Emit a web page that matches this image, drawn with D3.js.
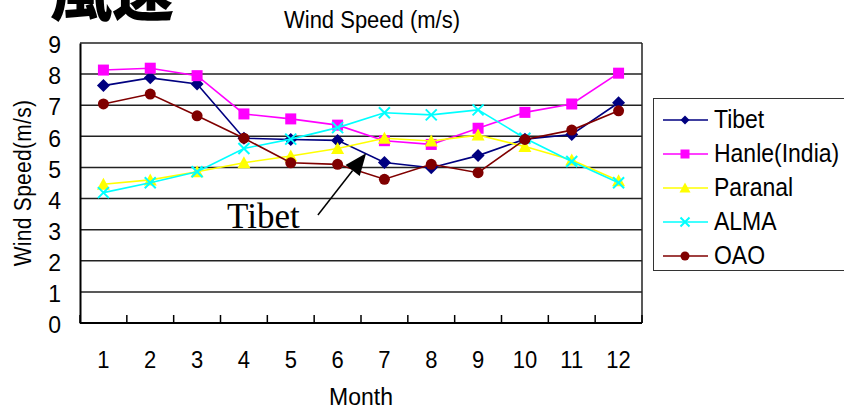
<!DOCTYPE html>
<html>
<head>
<meta charset="utf-8">
<script src="https://cdn.jsdelivr.net/npm/d3@7"></script>
<style>
  body { margin: 0; background: #fff; }
  svg { font-family: "Liberation Sans", Arial, sans-serif; }
</style>
</head>
<body>
<div id="chart"></div>
<script>
// chart data
var months = [1, 2, 3, 4, 5, 6, 7, 8, 9, 10, 11, 12];
var tibet = [7.63, 7.88, 7.68, 5.94, 5.90, 5.87, 5.16, 4.99, 5.38, 5.91, 6.06, 7.08];
var hanle = [8.13, 8.19, 7.95, 6.72, 6.56, 6.36, 5.86, 5.74, 6.26, 6.77, 7.04, 8.03];
var paranal = [4.46, 4.60, 4.86, 5.15, 5.37, 5.61, 5.94, 5.85, 6.04, 5.67, 5.24, 4.57];
var alma = [4.19, 4.51, 4.86, 5.61, 5.91, 6.28, 6.76, 6.69, 6.85, 5.94, 5.19, 4.51];
var oao = [7.04, 7.36, 6.66, 5.94, 5.15, 5.10, 4.62, 5.10, 4.83, 5.90, 6.20, 6.82];
var yTicks = [0, 1, 2, 3, 4, 5, 6, 7, 8, 9];

var series = [
  { name: "Tibet", values: tibet, color: "#000080", symbol: "diamond" },
  { name: "Hanle(India)", values: hanle, color: "#ff00ff", symbol: "square" },
  { name: "Paranal", values: paranal, color: "#ffff00", symbol: "triangle" },
  { name: "ALMA", values: alma, color: "#00ffff", symbol: "cross" },
  { name: "OAO", values: oao, color: "#800000", symbol: "circle" }
];

var svgWidth = 844, svgHeight = 409;
var plot = { left: 80, right: 642, top: 43, bottom: 323 };

var svg = d3.select("#chart").append("svg")
  .attr("width", svgWidth)
  .attr("height", svgHeight);

var x = d3.scaleBand().domain(months).range([plot.left, plot.right]);
var xc = function(m) { return x(m) + x.bandwidth() / 2; };
var xm = d3.scaleLinear().domain([0.5, 12.5]).range([plot.left, plot.right]);
var y = d3.scaleLinear().domain([0, 9]).range([plot.bottom, plot.top]);

// text a bit taller than wide, like the original
function tall(sel, cx, cy, k) {
  sel.attr("transform", `translate(${cx},${cy}) scale(1,${k}) translate(${-cx},${-cy})`);
}

// big title (clipped at top)
svg.append("text")
  .attr("x", 50).attr("y", 16)
  .style("font-family", "'Noto Sans CJK JP', sans-serif")
  .style("font-weight", "900")
  .style("font-size", "62px")
  .text("風速");

svg.append("text")
  .attr("x", 372).attr("y", 28)
  .attr("text-anchor", "middle")
  .style("font-size", "22px")
  .call(tall, 372, 28, 1.12)
  .text("Wind Speed (m/s)");

// gridlines
svg.append("g")
  .selectAll("line").data(yTicks).enter().append("line")
  .attr("x1", plot.left).attr("x2", plot.right)
  .attr("y1", d => y(d)).attr("y2", d => y(d))
  .attr("stroke", "#222").attr("stroke-width", 1.5);

// frame
svg.append("line")
  .attr("x1", plot.right).attr("x2", plot.right)
  .attr("y1", plot.top).attr("y2", plot.bottom)
  .attr("stroke", "#222").attr("stroke-width", 1.5);

// left axis
var leftAxis = d3.axisLeft(y).tickValues(yTicks).tickSize(0).tickPadding(19);
var gy = svg.append("g")
  .attr("transform", `translate(${plot.left},0)`)
  .call(leftAxis);
gy.select(".domain").attr("stroke", "#000").attr("stroke-width", 2);
gy.selectAll("text")
  .attr("font-size", null).attr("font-family", null)
  .style("font-size", "23px")
  .attr("dy", "0.42em");

// bottom axis: category ticks between months
var gx = svg.append("g")
  .attr("transform", `translate(0,${plot.bottom})`);
gx.append("line")
  .attr("x1", plot.left).attr("x2", plot.right)
  .attr("stroke", "#000").attr("stroke-width", 2);
gx.selectAll("line.tk").data(d3.range(0.5, 13, 1)).enter().append("line")
  .attr("class", "tk")
  .attr("x1", d => xm(d)).attr("x2", d => xm(d))
  .attr("y1", 0).attr("y2", -8)
  .attr("stroke", "#000").attr("stroke-width", 1.5);
gx.selectAll("text").data(months).enter().append("text")
  .attr("x", d => xc(d)).attr("y", 45)
  .attr("text-anchor", "middle")
  .style("font-size", "22px")
  .each(function(d) { tall(d3.select(this), xc(d), 45, 1.12); })
  .text(d => d);

svg.append("text")
  .attr("x", (plot.left + plot.right) / 2).attr("y", 405)
  .attr("text-anchor", "middle")
  .style("font-size", "23px")
  .call(tall, (plot.left + plot.right) / 2, 405, 1.08)
  .text("Month");

svg.append("text")
  .attr("transform", `translate(31,${(plot.top + plot.bottom) / 2}) rotate(-90) scale(1,1.1)`)
  .attr("text-anchor", "middle")
  .style("font-size", "21px")
  .style("letter-spacing", "0.3px")
  .text("Wind Speed(m/s)");

// markers
function drawMarker(g, sym, color, size) {
  if (sym === "diamond") {
    g.append("path").attr("d", `M0,${-size}L${size},0L0,${size}L${-size},0Z`).attr("fill", color);
  } else if (sym === "square") {
    g.append("rect").attr("x", -size).attr("y", -size).attr("width", size * 2).attr("height", size * 2).attr("fill", color);
  } else if (sym === "triangle") {
    g.append("path").attr("d", `M0,${-size - 1}L${size + 1},${size}L${-size - 1},${size}Z`).attr("fill", color);
  } else if (sym === "cross") {
    g.append("path").attr("d", `M${-size},${-size}L${size},${size}M${size},${-size}L${-size},${size}`)
      .attr("stroke", color).attr("stroke-width", 2).attr("fill", "none");
  } else {
    g.append("circle").attr("r", size).attr("fill", color);
  }
}

var line = d3.line().x((d, i) => xc(months[i])).y(d => y(d));

var markerSize = { diamond: 6.5, square: 5.5, triangle: 5.5, cross: 5.5, circle: 5.5 };

series.forEach(function(s) {
  var g = svg.append("g");
  g.append("path")
    .attr("d", line(s.values))
    .attr("fill", "none")
    .attr("stroke", s.color)
    .attr("stroke-width", 1.6);
  s.values.forEach(function(v, i) {
    var mg = g.append("g").attr("transform", `translate(${xc(months[i])},${y(v)})`);
    drawMarker(mg, s.symbol, s.color, markerSize[s.symbol]);
  });
});

// annotation
var tip = [xm(6.61), y(5.46)], tail = [xm(5.58), y(3.47)];
var ang = Math.atan2(tip[1] - tail[1], tip[0] - tail[0]);
var hl = 22, hw = 9;
var bx = tip[0] - hl * Math.cos(ang), by = tip[1] - hl * Math.sin(ang);
svg.append("line")
  .attr("x1", tail[0]).attr("y1", tail[1])
  .attr("x2", bx).attr("y2", by)
  .attr("stroke", "#000").attr("stroke-width", 1.5);
svg.append("path")
  .attr("d", `M${tip[0]},${tip[1]}L${bx + hw * Math.sin(ang)},${by - hw * Math.cos(ang)}L${bx - hw * Math.sin(ang)},${by + hw * Math.cos(ang)}Z`)
  .attr("fill", "#000");
svg.append("text")
  .attr("x", xm(3.64)).attr("y", y(3.05))
  .style("font-family", "'Liberation Serif', 'Times New Roman', serif")
  .style("font-size", "35px")
  .text("Tibet");

// legend
var legend = svg.append("g");
legend.append("rect")
  .attr("x", 653.5).attr("y", 98.5).attr("width", 200).attr("height", 172)
  .attr("fill", "#fff").attr("stroke", "#333").attr("stroke-width", 1);
series.forEach(function(s, i) {
  var ly = 120 + i * 34;
  var lg = legend.append("g").attr("transform", `translate(0,${ly})`);
  lg.append("line").attr("x1", 663).attr("x2", 708).attr("stroke", s.color).attr("stroke-width", 1.6);
  var mg = lg.append("g").attr("transform", "translate(685,0)");
  drawMarker(mg, s.symbol, s.color, 4.5);
  lg.append("text").attr("x", 714).attr("y", 8)
    .style("font-size", "23px")
    .call(tall, 714, 8, 1.1)
    .text(s.name);
});
</script>
</body>
</html>
